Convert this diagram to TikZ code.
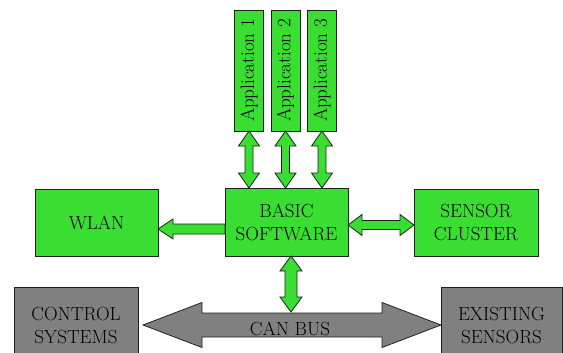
\documentclass[tikz,border=0pt]{standalone}
\usepackage{fontspec}
\usetikzlibrary{calc}
\definecolor{boxgreen}{RGB}{58,222,50}
\definecolor{boxgray}{RGB}{128,128,128}
\definecolor{edgecol}{RGB}{25,35,25}
\newcommand\vdarrow[5]{\path[arr] let \p1=(#1), \p2=(#2) in
 (\x1,\y1) -- (\x1+#4,\y1-#5) -- (\x1+#3,\y1-#5) -- (\x1+#3,\y2+#5) -- (\x1+#4,\y2+#5) -- (\x1,\y2)
 -- (\x1-#4,\y2+#5) -- (\x1-#3,\y2+#5) -- (\x1-#3,\y1-#5) -- (\x1-#4,\y1-#5) -- cycle;}
\newcommand\hdarrow[6]{\path[#6] let \p1=(#1), \p2=(#2) in
 (\x1,\y1) -- (\x1+#5,\y1+#4) -- (\x1+#5,\y1+#3) -- (\x2-#5,\y1+#3) -- (\x2-#5,\y1+#4) -- (\x2,\y1)
 -- (\x2-#5,\y1-#4) -- (\x2-#5,\y1-#3) -- (\x1+#5,\y1-#3) -- (\x1+#5,\y1-#4) -- cycle;}
\newcommand\lsarrow[5]{\path[arr] let \p1=(#1), \p2=(#2) in
 (\x1,\y1) -- (\x1+#5,\y1+#4) -- (\x1+#5,\y1+#3) -- (\x2,\y1+#3) -- (\x2,\y1-#3)
 -- (\x1+#5,\y1-#3) -- (\x1+#5,\y1-#4) -- cycle;}
\begin{document}
\begin{tikzpicture}[x=1pt,y=-1pt,
  box/.style={draw=edgecol, line width=0.8pt, fill=boxgreen, outer sep=0pt, inner sep=0pt,
    align=center, font=\rmfamily\fontsize{19}{23}\selectfont},
  gbox/.style={box, fill=boxgray},
  appbox/.style={box, rotate=90, minimum width=121pt, minimum height=29pt},
  arr/.style={draw=edgecol, line width=0.8pt, fill=boxgreen, line join=miter},
  garr/.style={arr, fill=boxgray},
  lbl/.style={inner sep=0pt, font=\rmfamily\fontsize{19}{23}\selectfont}]
\useasboundingbox (0,0) rectangle (563,353);
\clip (0,0) rectangle (563,353);
% boxes
\node[appbox] (a1) at (249,70.5) {Application 1};
\node[appbox] (a2) at (285.5,70.5) {Application 2};
\node[appbox] (a3) at (322,70.5) {Application 3};
\node[box, minimum width=123pt, minimum height=68pt] (bs) at (286.5,222) {BASIC\\SOFTWARE};
\node[box, minimum width=123pt, minimum height=67pt] (wlan) at (96.5,222.5) {WLAN};
\node[box, minimum width=124pt, minimum height=67pt] (sc) at (476,222.5) {SENSOR\\CLUSTER};
\node[gbox, minimum width=124pt, minimum height=78pt] (cs) at (76,326) {CONTROL\\SYSTEMS};
\node[gbox, minimum width=121pt, minimum height=78pt] (es) at (501.5,326) {EXISTING\\SENSORS};
% application arrows
\vdarrow{a1.west}{a1.west |- bs.north}{4pt}{10.5pt}{15pt}
\vdarrow{a2.west}{a2.west |- bs.north}{4pt}{10.5pt}{15pt}
\vdarrow{a3.west}{a3.west |- bs.north}{4pt}{10.5pt}{15pt}
% wlan arrow
\coordinate (wl) at (wlan.east |- 0,229);
\coordinate (wr) at (bs.west |- wl);
\lsarrow{wl}{wr}{5pt}{10pt}{15pt}
% sensor arrow
\coordinate (sl) at (bs.east |- 0,225);
\coordinate (sr) at (sc.west |- sl);
\hdarrow{sl}{sr}{4.5pt}{10.5pt}{14pt}{arr}
% CAN bus
\coordinate (canL) at (143,325);
\coordinate (canR) at (es.west |- canL);
\hdarrow{canL}{canR}{12pt}{22.5pt}{59pt}{garr}
\node[lbl] (can) at (290,328.5) {CAN BUS};
% basic software to CAN bus
\coordinate (bt) at ($(bs.south)+(4.5,0)$);
\coordinate (bb) at (bt |- 0,312);
\vdarrow{bt}{bb}{6pt}{11pt}{15pt}
\end{tikzpicture}
\end{document}
